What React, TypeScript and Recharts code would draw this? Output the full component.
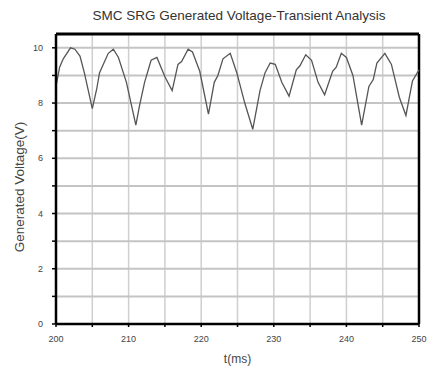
import React from "react";
import {
  LineChart, Line, XAxis, YAxis, CartesianGrid, ReferenceLine,
} from "recharts";

// t (ms) and generated voltage (V)
const TIME = [
  200.0, 200.5, 201.0, 202.0, 202.6, 203.3, 203.9, 205.0, 205.6, 206.0,
  207.2, 207.9, 208.6, 209.7, 211.0, 211.5, 212.2, 213.1, 213.9, 215.0,
  216.0, 216.8, 217.3, 218.2, 218.8, 219.8, 221.0, 221.8, 222.3, 223.0,
  224.0, 224.9, 226.0, 227.1, 228.1, 228.8, 229.5, 230.2, 231.1, 232.1,
  233.1, 233.6, 234.4, 235.2, 236.1, 237.0, 238.1, 238.6, 239.3, 240.0,
  240.9, 242.1, 243.1, 243.7, 244.2, 245.3, 246.2, 247.3, 248.2, 249.1,
  250.0,
];
const VOLTAGE = [
  8.6, 9.3, 9.6, 10.0, 9.95, 9.7, 9.1, 7.8, 8.5, 9.1,
  9.8, 9.95, 9.65, 8.75, 7.2, 7.9, 8.75, 9.55, 9.65, 8.95,
  8.45, 9.4, 9.5, 9.95, 9.85, 9.15, 7.6, 8.75, 9.0, 9.6,
  9.8, 9.1, 8.0, 7.05, 8.45, 9.1, 9.45, 9.4, 8.75, 8.25,
  9.2, 9.35, 9.75, 9.55, 8.75, 8.3, 9.15, 9.3, 9.8, 9.65,
  9.0, 7.2, 8.6, 8.85, 9.45, 9.8, 9.4, 8.2, 7.55, 8.8,
  9.2,
];

const X_TICKS = [200, 205, 210, 215, 220, 225, 230, 235, 240, 245, 250];
const Y_TICKS = [0, 1, 2, 3, 4, 5, 6, 7, 8, 9, 10];
const Y_GRID = [1, 2, 3, 4, 5, 6, 7, 8, 9, 10];
const X_MAX = 250;
const Y_MAX = 10.5;

const FONT = "'Liberation Sans', Arial, sans-serif";
const W = 427;
const H = 367;
const GRID = "#cfcfcf";

export default function App() {
  const data = TIME.map((t, i) => ({ t, v: VOLTAGE[i] }));

  return (
    <div style={{ position: "relative", width: W, height: H, background: "#fff", fontFamily: FONT }}>
      <style>{`body{margin:0}`}</style>
      <LineChart
        width={W}
        height={H}
        data={data}
        margin={{ top: 34, right: 8, left: 0, bottom: 0 }}
      >
        <CartesianGrid stroke={GRID} strokeWidth={1.5} horizontal={false} />
        {Y_GRID.map((y) => (
          <ReferenceLine key={`g${y}`} y={y} stroke="#c4c4c4" strokeWidth={2} ifOverflow="visible" />
        ))}
        <XAxis
          dataKey="t"
          type="number"
          domain={[200, X_MAX]}
          ticks={X_TICKS}
          height={43}
          tickSize={3}
          tickMargin={9}
          tick={{ fontSize: 9, fill: "#444", fontFamily: FONT }}
          tickFormatter={(v: number) => (v % 10 === 0 ? String(v) : "")}
          axisLine={{ stroke: "#000", strokeWidth: 2.5 }}
          tickLine={{ stroke: "#000", strokeWidth: 1.5 }}
          label={{ value: "t(ms)", position: "insideBottom", offset: 4, fontSize: 12, fill: "#444", fontFamily: FONT }}
        />
        <YAxis
          type="number"
          domain={[0, Y_MAX]}
          ticks={Y_TICKS}
          width={56}
          tickSize={4}
          tickMargin={9}
          tick={{ fontSize: 9, fill: "#444", fontFamily: FONT }}
          tickFormatter={(v: number) => (v % 2 === 0 ? String(v) : "")}
          axisLine={{ stroke: "#000", strokeWidth: 2.5 }}
          tickLine={{ stroke: "#000", strokeWidth: 1.5 }}
        />
        <ReferenceLine x={X_MAX} stroke="#000" strokeWidth={2.5} />
        <ReferenceLine y={Y_MAX} stroke="#000" strokeWidth={3} />
        <Line
          type="linear"
          dataKey="v"
          stroke="#555"
          strokeWidth={1.3}
          dot={false}
          isAnimationActive={false}
        />
      </LineChart>
      <svg
        width={W}
        height={H}
        style={{ position: "absolute", left: 0, top: 0, pointerEvents: "none" }}
      >
        <text x={239} y={20} textAnchor="middle" fontSize={13.5} fill="#333" fontFamily={FONT}>
          SMC SRG Generated Voltage-Transient Analysis
        </text>
        <text
          x={24}
          y={187}
          textAnchor="middle"
          fontSize={13.5}
          fill="#444"
          fontFamily={FONT}
          transform="rotate(-90 24 187)"
        >
          Generated Voltage(V)
        </text>
      </svg>
    </div>
  );
}
